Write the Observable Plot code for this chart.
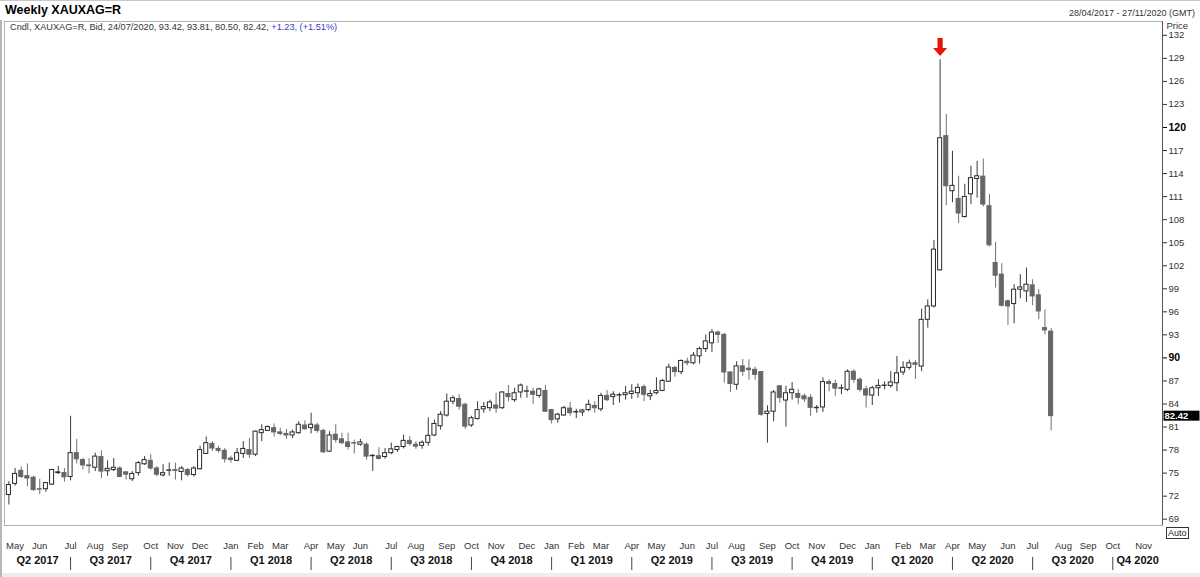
<!DOCTYPE html>
<html>
<head>
<meta charset="utf-8">
<script src="https://cdn.jsdelivr.net/npm/d3@7"></script>
<script src="https://cdn.jsdelivr.net/npm/@observablehq/plot@0.6"></script>
<style>
  html, body { margin: 0; padding: 0; background: #fff; }
  #wrap { position: relative; width: 1200px; height: 577px; overflow: hidden; background: #fff;
          font-family: "Liberation Sans", Arial, sans-serif; color: #333; }
  #title { position: absolute; left: 5px; top: 3px; font-size: 12.5px; font-weight: bold; color: #000; z-index: 5; }
  #range { position: absolute; right: 5px; top: 8px; font-size: 9px; color: #333; z-index: 5; }
  #legend { position: absolute; left: 10px; top: 22px; font-size: 9.2px; color: #333; white-space: nowrap; z-index: 5; }
  #legend .chg { color: #3a3ad0; }
  #chart { position: absolute; left: 0; top: 11px; z-index: 1; }
  #auto { position: absolute; left: 1166px; top: 527px; font-size: 9px; border: 1px solid #333;
          padding: 0 1px; line-height: 10px; color: #222; background: #fff; z-index: 5; }
  #lborder { position: absolute; left: 0; top: 20px; width: 2px; height: 557px; background: #b8b8b8; z-index: 2; }
  #tborder { position: absolute; left: 0; top: 0; width: 1200px; height: 1px; background: #c8c8c8; z-index: 2; }
  #bborder { position: absolute; left: 0; top: 573px; width: 1200px; height: 4px; background: #eee; z-index: 0; }
</style>
</head>
<body>
<div id="wrap">
  <div id="bborder"></div>
  <div id="chart"></div>
  <div id="tborder"></div>
  <div id="lborder"></div>
  <div id="title">Weekly XAUXAG=R</div>
  <div id="range">28/04/2017 - 27/11/2020 (GMT)</div>
  <div id="legend"></div>
  <div id="auto">Auto</div>
</div>
<script>
// ---- Data: weekly candles (Fridays), first week 28/04/2017 ----
const firstWeek = "2017-04-28";
const opens = [
 72.15,73.6,75.3,74.6,74.4,72.9,72.9,73.5,75.0,75.0,
 74.5,77.6,76.7,76.0,75.7,77.1,75.25,75.4,75.6,75.1,
 74.2,75.0,76.15,76.6,75.6,74.7,75.3,75.4,75.15,75.4,
 74.75,75.5,77.5,78.8,78.15,77.9,76.9,76.6,77.5,78.0,
 77.4,80.2,80.5,80.85,80.3,80.1,79.9,80.2,81.2,80.85,
 81.2,80.5,77.8,80.0,79.4,79.0,78.9,78.7,78.7,77.2,
 77.2,77.1,77.6,78.0,78.4,79.2,78.7,78.55,78.95,79.9,
 81.1,82.5,84.3,84.65,83.9,81.2,82.05,83.3,83.45,83.8,
 83.45,85.3,84.5,85.5,85.6,85.6,85.05,85.7,83.2,82.0,
 82.5,83.4,82.9,82.9,83.2,83.75,83.3,85.05,84.9,85.1,
 85.15,85.3,85.4,86.2,85.0,85.4,85.7,86.9,88.7,88.15,
 89.5,89.3,90.2,91.15,91.9,93.3,93.0,88.1,86.5,88.9,
 88.6,88.45,88.15,82.7,83.0,86.3,84.45,85.4,85.3,85.0,
 84.8,83.45,83.55,86.85,86.6,86.0,85.85,88.2,87.15,85.9,
 85.1,86.05,86.35,86.35,86.7,88.1,88.7,89.3,88.87,94.96,
 96.7,101.4,118.87,111.7,110.7,108.35,111.3,113.3,113.6,109.75,
 102.36,100.84,97.36,97.01,98.88,98.66,99.44,98.14,93.88,93.42
];
const highs = [
 73.9,75.6,75.8,76.2,74.6,74.2,73.8,75.5,75.9,75.6,
 82.4,79.4,76.9,76.9,77.6,77.9,76.6,76.9,75.85,75.2,
 75.2,76.5,77.15,77.4,75.85,76.1,76.3,76.3,75.85,75.6,
 75.85,78.5,79.7,79.1,78.5,78.2,77.2,78.2,79.1,79.5,
 80.5,81.3,81.15,81.4,80.85,80.7,80.6,81.7,81.8,82.8,
 81.5,80.7,80.4,81.3,80.2,80.2,79.3,79.4,78.9,77.4,
 78.3,78.2,78.9,78.5,79.95,79.75,79.1,79.2,82.2,81.9,
 83.0,85.3,85.05,85.2,84.1,82.4,84.3,84.2,84.5,85.4,
 85.6,86.4,86.05,86.6,86.3,86.05,86.05,86.4,83.3,82.8,
 83.7,84.2,83.3,83.3,84.5,84.3,85.4,85.75,85.6,85.4,
 86.3,86.5,86.6,86.5,85.8,87.4,87.2,89.2,88.9,89.75,
 89.97,90.7,91.4,93.0,93.7,93.5,93.2,88.2,89.5,89.8,
 89.75,88.8,88.2,83.75,85.75,86.4,86.3,86.8,85.85,85.3,
 85.2,83.8,87.4,87.15,87.1,86.5,88.45,88.45,87.4,86.3,
 86.3,87.15,86.9,88.2,90.2,89.5,89.7,89.65,96.35,97.56,
 105.3,128.8,121.7,116.9,113.65,112.6,114.96,115.6,115.9,111.27,
 105.05,102.27,97.57,99.53,100.84,101.7,100.18,98.88,96.27,93.81
];
const lows = [
 70.85,73.3,74.3,73.2,72.6,72.2,72.5,73.4,74.8,73.8,
 74.0,76.2,75.4,74.9,75.2,74.3,74.6,75.2,74.4,74.1,
 73.9,74.6,76.0,75.4,74.5,74.5,74.6,74.1,74.0,74.5,
 74.5,75.4,77.4,77.8,77.6,76.3,76.3,76.5,76.9,76.9,
 77.15,79.1,80.4,79.7,79.85,79.4,79.5,80.05,80.6,80.1,
 80.2,77.6,77.7,78.9,78.7,78.0,77.5,78.5,76.7,75.2,
 76.7,76.8,77.4,77.7,78.15,78.5,78.1,78.1,78.5,79.75,
 80.6,82.3,83.9,83.2,80.7,80.95,81.9,82.8,83.0,82.8,
 83.3,84.3,84.2,84.75,84.75,83.9,84.75,82.9,81.4,81.5,
 82.4,82.4,82.1,82.4,83.0,82.8,83.0,84.3,83.8,84.1,
 84.5,84.6,84.75,84.3,84.45,85.2,85.6,86.8,87.5,87.8,
 88.97,89.1,89.2,90.7,90.7,91.9,86.7,85.5,85.8,87.6,
 87.1,87.1,82.4,78.9,81.7,84.1,81.0,84.5,83.9,84.2,
 82.4,82.8,82.9,85.6,85.0,85.2,85.6,86.7,85.55,83.45,
 83.8,84.98,85.85,86.05,85.6,87.7,88.4,87.2,88.2,93.87,
 96.5,101.3,109.83,110.2,107.5,108.2,109.96,110.8,109.65,104.44,
 99.1,96.62,94.23,94.44,97.7,97.23,96.79,94.97,93.01,80.50
];
const closes = [
 73.45,74.9,74.5,74.3,72.8,72.85,73.7,75.4,75.1,74.45,
 77.6,76.8,76.0,75.9,77.15,75.2,75.55,75.7,74.5,74.8,
 74.9,76.3,76.7,75.6,74.8,75.0,75.35,75.3,75.6,74.75,
 75.6,78.0,78.9,78.2,77.9,76.8,76.7,77.6,78.15,77.4,
 80.4,80.6,81.0,80.3,80.1,79.9,80.3,81.3,80.7,81.3,
 80.5,77.7,79.9,79.3,78.9,78.4,78.85,79.0,77.15,77.25,
 76.85,77.6,78.1,78.4,79.2,78.8,78.45,78.95,79.85,81.4,
 82.6,84.3,84.75,83.65,81.05,82.15,83.2,83.6,84.2,83.4,
 85.5,84.9,85.4,86.4,85.65,85.2,85.9,83.0,81.9,82.6,
 83.45,82.8,82.95,83.15,83.9,83.45,85.05,84.5,85.2,85.15,
 85.4,85.6,86.1,85.2,85.3,85.7,87.0,88.75,88.15,89.6,
 89.3,90.3,91.15,92.15,93.3,93.0,88.1,86.6,88.9,88.2,
 88.4,87.8,82.6,83.0,85.5,84.8,85.4,85.85,84.8,84.6,
 83.5,83.5,86.85,86.6,86.0,86.05,88.2,87.15,85.85,85.1,
 86.05,86.35,86.4,86.8,88.0,88.7,89.3,89.1,94.96,96.7,
 104.1,118.6,112.35,112.4,108.8,110.96,113.4,113.65,109.96,104.66,
 100.7,96.79,96.7,98.88,99.18,99.53,98.01,96.05,93.58,82.42
];
const priceTicks = [69,72,75,78,81,84,87,93,96,99,102,105,108,111,114,117,123,126,129,132];
const boldPriceTicks = [90,120];
const chartStart = "2017-04-23";
const chartEnd = "2020-11-27T10:00";
const firstMonth = "2017-05-01";
const lastMonth = "2020-11-01";
const yDomain = [68.18, 133.8];
const legendFields = ["Cndl", "XAUXAG=R", "Bid", "24/07/2020"];
const legendChange = "+1.23, (+1.51%)";

// ---- Build table ----
const start = new Date(firstWeek + "T00:00Z");
const candles = opens.map((o, i) => ({
  date: d3.utcDay.offset(start, 7 * i),
  open: o, high: highs[i], low: lows[i], close: closes[i],
  up: closes[i] >= o
}));
const last = candles[candles.length - 1];
const peak = candles.reduce((a, b) => (b.high > a.high ? b : a));

const x0 = new Date(chartStart + "T00:00Z");
const x1 = new Date(chartEnd + "Z");
const DAY = 864e5;
const half = 2.3 * DAY;

// Month labels: centered on the first weekly candle of each month
const months = d3.utcMonth.range(new Date(firstMonth + "T00:00Z"), d3.utcMonth.offset(new Date(lastMonth + "T00:00Z"), 1));
const monthTicks = months.map(m => ({ date: d3.utcFriday.ceil(m), label: d3.utcFormat("%b")(m) }));

// Quarter labels
const qStarts = d3.utcMonth.every(3).range(d3.utcMonth.every(3).floor(months[0]), d3.utcMonth.offset(months[months.length - 1], 1));
const quarters = qStarts.map(q => {
  const a = new Date(Math.max(+x0, +d3.utcFriday.ceil(q)));
  const b = new Date(Math.min(+x1, +d3.utcFriday.ceil(d3.utcMonth.offset(q, 3))));
  return { date: new Date((+a + +b) / 2), label: `Q${Math.floor(q.getUTCMonth() / 3) + 1} ${q.getUTCFullYear()}` };
});
const separators = qStarts.map(q => d3.utcFriday.ceil(q)).filter(d => d > x0 && d < x1);

// Block arrow symbol (pointing down, tip at origin)
const blockArrow = {
  draw(ctx) {
    ctx.moveTo(0, 0);
    ctx.lineTo(-7, -8);
    ctx.lineTo(-2.6, -8);
    ctx.lineTo(-2.6, -18);
    ctx.lineTo(2.6, -18);
    ctx.lineTo(2.6, -8);
    ctx.lineTo(7, -8);
    ctx.closePath();
  }
};
// vertical bar symbol for quarter separators
const vbar = {
  draw(ctx) {
    ctx.rect(-0.5, -6.5, 1, 13);
  }
};

const chart = Plot.plot({
  width: 1200,
  height: 566,
  marginTop: 10,
  marginBottom: 52,
  marginLeft: 4,
  marginRight: 38,
  style: { fontFamily: "'Liberation Sans', Arial, sans-serif", background: "transparent", overflow: "visible" },
  x: { type: "utc", domain: [x0, x1], axis: null },
  y: { domain: yDomain, axis: null },
  marks: [
    Plot.frame({ stroke: "#b0b0b0" }),
    Plot.ruleX([x1], { stroke: "#555" }),
    // wicks
    Plot.ruleX(candles, { x: "date", y1: "low", y2: "high", stroke: d => d.up ? "#3a3a3a" : "#707070", strokeWidth: 1 }),
    // bodies
    Plot.rect(candles, {
      x1: d => new Date(+d.date - half), x2: d => new Date(+d.date + half),
      y1: "open", y2: "close",
      fill: d => d.up ? "#fff" : "#666",
      stroke: d => d.up ? "#2a2a2a" : "#666",
      strokeWidth: 1
    }),
    // peak marker
    Plot.dot([peak], { x: "date", y: "high", symbol: blockArrow, r: 5, fill: "#e8140a", stroke: "none", dy: -4 }),
    // right price axis
    Plot.axisY(priceTicks, { anchor: "right", tickSize: 4, tickPadding: 2, fontSize: 9.5, color: "#333", label: null }),
    Plot.axisY(boldPriceTicks, { anchor: "right", tickSize: 4, tickPadding: 2, fontSize: 10.5, fontWeight: "bold", color: "#000", label: null }),
    Plot.text(["Price"], { frameAnchor: "top-right", dx: 4, dy: 1, textAnchor: "start", fontSize: 9.5, fill: "#333" }),
    // last price label
    Plot.text([last], { y: "close", text: d => d.close.toFixed(2), frameAnchor: "right", dx: 2, textAnchor: "start",
      fontSize: 9.5, fontWeight: "bold", fill: "#fff" }),
    // bottom axis
    Plot.text(monthTicks, { x: "date", text: "label", frameAnchor: "bottom", dy: 23, fontSize: 9.5, fill: "#333" }),
    Plot.text(quarters, { x: "date", text: "label", frameAnchor: "bottom", dy: 38, fontSize: 11, fontWeight: "bold", fill: "#111" }),
    Plot.dot(separators, { x: d => d, frameAnchor: "bottom", dy: 38, symbol: vbar, r: 3, fill: "#444", stroke: "none" })
  ]
});
document.getElementById("chart").appendChild(chart);

// black background box behind the last-price label
const lastLabel = last.close.toFixed(2);
const lp = Array.from(chart.querySelectorAll("text")).find(t => t.textContent === lastLabel);
if (lp) {
  const bb = lp.getBBox();
  const r = document.createElementNS("http://www.w3.org/2000/svg", "rect");
  r.setAttribute("x", bb.x - 1);
  r.setAttribute("y", bb.y + 0.5);
  r.setAttribute("width", 36);
  r.setAttribute("height", Math.max(bb.height - 1, 9));
  r.setAttribute("fill", "#000");
  const tr = lp.getAttribute("transform");
  if (tr) r.setAttribute("transform", tr);
  lp.parentNode.insertBefore(r, lp);
  lp.setAttribute("fill", "#fff");
}

// legend line
const fmt = v => v.toFixed(2);
document.getElementById("legend").innerHTML =
  [...legendFields, fmt(last.open), fmt(last.high), fmt(last.low), fmt(last.close)].join(", ") +
  ', <span class="chg">' + legendChange + "</span>";
</script>
</body>
</html>
